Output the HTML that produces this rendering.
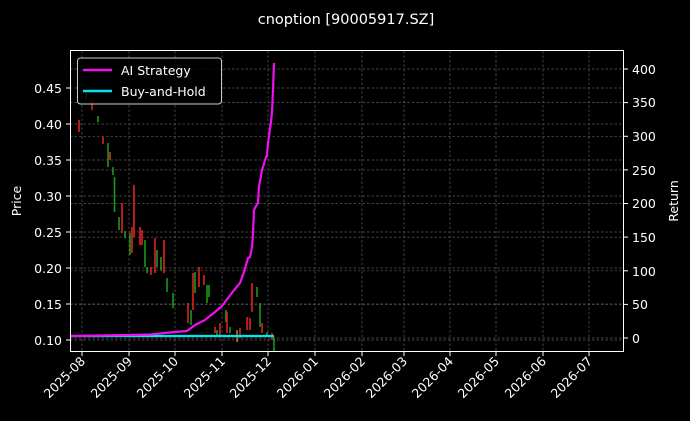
<!DOCTYPE html>
<html><head><meta charset="utf-8"><style>
html,body{margin:0;padding:0;background:#000;}
svg{display:block;font-family:"DejaVu Sans","Liberation Sans",sans-serif;}
</style></head><body>
<svg width="690" height="421" viewBox="0 0 690 421" xmlns="http://www.w3.org/2000/svg">
<rect width="690" height="421" fill="#000"/>
<text x="346" y="24" fill="#fff" font-size="14.5" text-anchor="middle">cnoption [90005917.SZ]</text>
<g stroke="#5a5a5a" stroke-width="0.7" stroke-dasharray="2.5,2">
<line x1="82" y1="51" x2="82" y2="352"/><line x1="129" y1="51" x2="129" y2="352"/><line x1="175" y1="51" x2="175" y2="352"/><line x1="222" y1="51" x2="222" y2="352"/><line x1="268" y1="51" x2="268" y2="352"/><line x1="315" y1="51" x2="315" y2="352"/><line x1="362" y1="51" x2="362" y2="352"/><line x1="404" y1="51" x2="404" y2="352"/><line x1="450" y1="51" x2="450" y2="352"/><line x1="496" y1="51" x2="496" y2="352"/><line x1="543" y1="51" x2="543" y2="352"/><line x1="589" y1="51" x2="589" y2="352"/>
<line x1="70" y1="340" x2="624" y2="340"/><line x1="70" y1="304" x2="624" y2="304"/><line x1="70" y1="268" x2="624" y2="268"/><line x1="70" y1="232" x2="624" y2="232"/><line x1="70" y1="196" x2="624" y2="196"/><line x1="70" y1="160" x2="624" y2="160"/><line x1="70" y1="124" x2="624" y2="124"/><line x1="70" y1="88" x2="624" y2="88"/>
<line x1="70" y1="338" x2="624" y2="338"/><line x1="70" y1="304.4" x2="624" y2="304.4"/><line x1="70" y1="270.8" x2="624" y2="270.8"/><line x1="70" y1="237.1" x2="624" y2="237.1"/><line x1="70" y1="203.5" x2="624" y2="203.5"/><line x1="70" y1="169.9" x2="624" y2="169.9"/><line x1="70" y1="136.3" x2="624" y2="136.3"/><line x1="70" y1="102.6" x2="624" y2="102.6"/><line x1="70" y1="69" x2="624" y2="69"/>
</g>
<g stroke-width="1.6">
<line x1="79" y1="120" x2="79" y2="132" stroke="#e02020"/>
<line x1="86" y1="90" x2="86" y2="100" stroke="#e02020"/>
<line x1="92" y1="100" x2="92" y2="110" stroke="#e02020"/>
<line x1="98" y1="116" x2="98" y2="122" stroke="#1a9a1a"/>
<line x1="103" y1="137" x2="103" y2="144" stroke="#e02020"/>
<line x1="108" y1="143" x2="108" y2="167" stroke="#1a9a1a"/>
<line x1="110" y1="152" x2="110" y2="160" stroke="#c04020"/>
<line x1="113" y1="167" x2="113" y2="175" stroke="#1a9a1a"/>
<line x1="114.5" y1="177" x2="114.5" y2="212" stroke="#1a9a1a"/>
<line x1="119" y1="217" x2="119" y2="230" stroke="#1a9a1a"/>
<line x1="122" y1="203" x2="122" y2="233" stroke="#e02020"/>
<line x1="125" y1="231" x2="125" y2="238" stroke="#1a9a1a"/>
<line x1="130" y1="233" x2="130" y2="255" stroke="#1a9a1a"/>
<line x1="132" y1="227" x2="132" y2="253" stroke="#e02020"/>
<line x1="134" y1="185" x2="134" y2="237" stroke="#e02020"/>
<line x1="140" y1="227" x2="140" y2="245" stroke="#e02020"/>
<line x1="142" y1="230" x2="142" y2="245" stroke="#e02020"/>
<line x1="145" y1="240" x2="145" y2="267" stroke="#1a9a1a"/>
<line x1="147" y1="267" x2="147" y2="273" stroke="#1a9a1a"/>
<line x1="151" y1="267" x2="151" y2="275" stroke="#e02020"/>
<line x1="155" y1="238" x2="155" y2="273" stroke="#e02020"/>
<line x1="157" y1="250" x2="157" y2="267" stroke="#1a9a1a"/>
<line x1="161" y1="257" x2="161" y2="270" stroke="#1a9a1a"/>
<line x1="164" y1="240" x2="164" y2="273" stroke="#e02020"/>
<line x1="167" y1="278" x2="167" y2="292" stroke="#1a9a1a"/>
<line x1="173" y1="293" x2="173" y2="308" stroke="#1a9a1a"/>
<line x1="188" y1="303" x2="188" y2="323" stroke="#e02020"/>
<line x1="191" y1="310" x2="191" y2="325" stroke="#1a9a1a"/>
<line x1="193" y1="273" x2="193" y2="310" stroke="#e02020"/>
<line x1="195" y1="272" x2="195" y2="293" stroke="#1a9a1a"/>
<line x1="199" y1="267" x2="199" y2="287" stroke="#e02020"/>
<line x1="204" y1="275" x2="204" y2="285" stroke="#e02020"/>
<line x1="207" y1="285" x2="207" y2="303" stroke="#1a9a1a"/>
<line x1="209" y1="285" x2="209" y2="297" stroke="#1a9a1a"/>
<line x1="215" y1="327" x2="215" y2="333" stroke="#e02020"/>
<line x1="217" y1="330" x2="217" y2="337" stroke="#1a9a1a"/>
<line x1="220" y1="323" x2="220" y2="335" stroke="#e02020"/>
<line x1="226" y1="310" x2="226" y2="322" stroke="#1a9a1a"/>
<line x1="227" y1="312" x2="227" y2="333" stroke="#e02020"/>
<line x1="230" y1="327" x2="230" y2="333" stroke="#1a9a1a"/>
<line x1="237" y1="330" x2="237" y2="342" stroke="#a08020"/>
<line x1="240" y1="328" x2="240" y2="338" stroke="#e02020"/>
<line x1="247" y1="317" x2="247" y2="330" stroke="#e02020"/>
<line x1="250" y1="318" x2="250" y2="330" stroke="#e02020"/>
<line x1="252" y1="283" x2="252" y2="312" stroke="#e02020"/>
<line x1="257" y1="287" x2="257" y2="297" stroke="#1a9a1a"/>
<line x1="260" y1="303" x2="260" y2="327" stroke="#1a9a1a"/>
<line x1="262" y1="323" x2="262" y2="333" stroke="#e02020"/>
<line x1="267" y1="332" x2="267" y2="337" stroke="#1a9a1a"/>
<line x1="272" y1="333" x2="272" y2="340" stroke="#e02020"/>
<line x1="274" y1="337" x2="274" y2="352" stroke="#1a9a1a"/>
</g>
<polyline fill="none" stroke="#00e5ee" stroke-width="2.2" points="70,336 274,336"/>
<polyline fill="none" stroke="#ee10ee" stroke-width="2.2" points="70,336 130,335 150,334.5 160,333.5 175,332 187,331 195,325 205,320 215,312 222,306 228,298 235,289 240,283 244,272 248,258 250,257 252,247 253,233 254,210 256,206 258,203 259,186 261,176 262,170 264,164 265,160 267,155 268,143 271,122 272,112 273,90 274,63"/>
<rect x="70.5" y="50.5" width="553" height="301" fill="none" stroke="#fff" stroke-width="1"/>
<g stroke="#fff" stroke-width="1">
<line x1="66" y1="340" x2="70" y2="340"/><line x1="66" y1="304" x2="70" y2="304"/><line x1="66" y1="268" x2="70" y2="268"/><line x1="66" y1="232" x2="70" y2="232"/><line x1="66" y1="196" x2="70" y2="196"/><line x1="66" y1="160" x2="70" y2="160"/><line x1="66" y1="124" x2="70" y2="124"/><line x1="66" y1="88" x2="70" y2="88"/>
<line x1="624" y1="338" x2="628" y2="338"/><line x1="624" y1="304.4" x2="628" y2="304.4"/><line x1="624" y1="270.8" x2="628" y2="270.8"/><line x1="624" y1="237.1" x2="628" y2="237.1"/><line x1="624" y1="203.5" x2="628" y2="203.5"/><line x1="624" y1="169.9" x2="628" y2="169.9"/><line x1="624" y1="136.3" x2="628" y2="136.3"/><line x1="624" y1="102.6" x2="628" y2="102.6"/><line x1="624" y1="69" x2="628" y2="69"/>
<line x1="82" y1="352" x2="82" y2="356"/><line x1="129" y1="352" x2="129" y2="356"/><line x1="175" y1="352" x2="175" y2="356"/><line x1="222" y1="352" x2="222" y2="356"/><line x1="268" y1="352" x2="268" y2="356"/><line x1="315" y1="352" x2="315" y2="356"/><line x1="362" y1="352" x2="362" y2="356"/><line x1="404" y1="352" x2="404" y2="356"/><line x1="450" y1="352" x2="450" y2="356"/><line x1="496" y1="352" x2="496" y2="356"/><line x1="543" y1="352" x2="543" y2="356"/><line x1="589" y1="352" x2="589" y2="356"/>
</g>
<g fill="#fff" font-size="12.5" text-anchor="end">
<text x="62" y="345">0.10</text><text x="62" y="309">0.15</text><text x="62" y="273">0.20</text><text x="62" y="237">0.25</text><text x="62" y="201">0.30</text><text x="62" y="165">0.35</text><text x="62" y="129">0.40</text><text x="62" y="93">0.45</text>
</g>
<g fill="#fff" font-size="12.5" text-anchor="start">
<text x="632" y="343">0</text><text x="632" y="309">50</text><text x="632" y="276">100</text><text x="632" y="242">150</text><text x="632" y="208">200</text><text x="632" y="175">250</text><text x="632" y="141">300</text><text x="632" y="107">350</text><text x="632" y="74">400</text>
</g>
<text transform="translate(21,201) rotate(-90)" fill="#fff" font-size="12.5" text-anchor="middle">Price</text>
<text transform="translate(678,201) rotate(-90)" fill="#fff" font-size="12.5" text-anchor="middle">Return</text>
<g fill="#fff" font-size="12.5" text-anchor="end">
<text transform="translate(86,362) rotate(-45)">2025-08</text>
<text transform="translate(133,362) rotate(-45)">2025-09</text>
<text transform="translate(179,362) rotate(-45)">2025-10</text>
<text transform="translate(226,362) rotate(-45)">2025-11</text>
<text transform="translate(272,362) rotate(-45)">2025-12</text>
<text transform="translate(319,362) rotate(-45)">2026-01</text>
<text transform="translate(366,362) rotate(-45)">2026-02</text>
<text transform="translate(408,362) rotate(-45)">2026-03</text>
<text transform="translate(454,362) rotate(-45)">2026-04</text>
<text transform="translate(500,362) rotate(-45)">2026-05</text>
<text transform="translate(547,362) rotate(-45)">2026-06</text>
<text transform="translate(593,362) rotate(-45)">2026-07</text>
</g>
<rect x="77.5" y="58" width="144" height="46" rx="3" fill="#000" fill-opacity="0.8" stroke="#ccc" stroke-width="1"/>
<line x1="83" y1="70" x2="112" y2="70" stroke="#ee10ee" stroke-width="2.5"/>
<line x1="83" y1="91" x2="112" y2="91" stroke="#00e5ee" stroke-width="2.5"/>
<text x="121" y="75" fill="#fff" font-size="12.5">AI Strategy</text>
<text x="121" y="96" fill="#fff" font-size="12.5">Buy-and-Hold</text>
</svg>
</body></html>
